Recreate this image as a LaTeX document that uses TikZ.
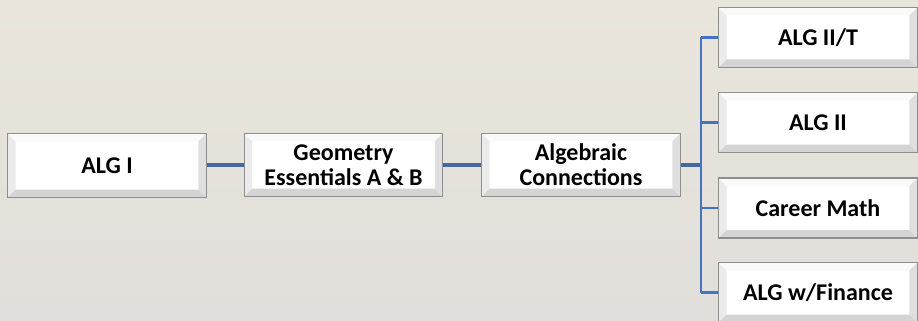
\documentclass[tikz,border=0pt]{standalone}
\usepackage{fontspec}
\setmainfont{Carlito}
\definecolor{bgtop}{HTML}{E9E5DB}
\definecolor{bgbot}{HTML}{E1DFDB}
\definecolor{boxborder}{HTML}{8E8E8E}
\definecolor{bvleft}{HTML}{EBEBEB}
\definecolor{bvtop}{HTML}{FAFAFA}
\definecolor{bvright}{HTML}{DFDFDF}
\definecolor{bvbot}{HTML}{D4D4D4}
\definecolor{connA}{HTML}{4A6799}
\definecolor{connB}{HTML}{4472C4}
\tikzset{
  bevelbox/.style={draw=boxborder, line width=0.9pt, fill=white, inner sep=0pt,
    minimum width=149pt, minimum height=#1, align=center,
    font=\fontsize{18}{19}\selectfont\bfseries,
    path picture={
      \def\pb{path picture bounding box}
      \fill[bvleft] (\pb.south west) -- (\pb.north west) -- ([shift={(6pt,-6pt)}]\pb.north west) -- ([shift={(6pt,6pt)}]\pb.south west) -- cycle;
      \fill[bvtop] (\pb.north west) -- (\pb.north east) -- ([shift={(-6pt,-6pt)}]\pb.north east) -- ([shift={(6pt,-6pt)}]\pb.north west) -- cycle;
      \fill[bvright] (\pb.north east) -- (\pb.south east) -- ([shift={(-6pt,6pt)}]\pb.south east) -- ([shift={(-6pt,-6pt)}]\pb.north east) -- cycle;
      \fill[bvbot] (\pb.south west) -- (\pb.south east) -- ([shift={(-6pt,6pt)}]\pb.south east) -- ([shift={(6pt,6pt)}]\pb.south west) -- cycle;
    }},
  connmain/.style={connA, line width=2.4pt},
  connbr/.style={connB, line width=1.6pt}
}
\begin{document}
\begin{tikzpicture}[x=0.75pt,y=-0.75pt]
\useasboundingbox (0,0) rectangle (918,321);
\clip (0,0) rectangle (918,321);
\shade[top color=bgtop, bottom color=bgbot] (0,0) rectangle (918,321);
% centre row
\node[bevelbox=48pt] (alg1) at (107,165.5) {ALG I};
\node[bevelbox=47.5pt] (geo) at (343.5,165) {Geometry\\Essentials A \& B};
\node[bevelbox=47.5pt] (alg) at (581,165) {Algebraic\\Connections};
% right column
\node[bevelbox=45pt] (a2t) at (818,37.5) {ALG II/T};
\node[bevelbox=45pt] (a2) at (818,122.5) {ALG II};
\node[bevelbox=45pt] (cm) at (818,208) {Career Math};
\node[bevelbox=45pt] (fin) at (818,292.5) {ALG w/Finance};
% connectors
\draw[connmain] (geo.west -| alg1.east) -- (geo.west);
\draw[connmain] (geo.east) -- (alg.west);
\draw[connmain] (alg.east) -- ++(15pt,0) coordinate (j);
\draw[connbr] (j |- a2t.west) -- (j |- fin.west);
\draw[connbr] (j |- a2t.west) -- (a2t.west);
\draw[connbr] (j |- a2.west) -- (a2.west);
\draw[connbr] (j |- cm.west) -- (cm.west);
\draw[connbr] (j |- fin.west) -- (fin.west);
\end{tikzpicture}
\end{document}
